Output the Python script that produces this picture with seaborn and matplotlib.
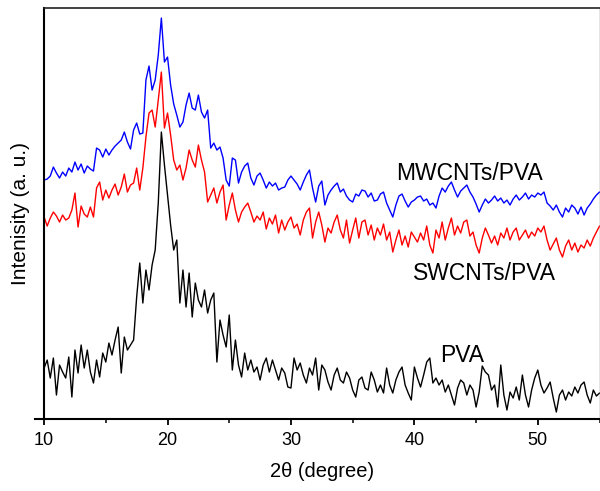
import numpy as np
import pandas as pd
import matplotlib
matplotlib.use("Agg")
import matplotlib.pyplot as plt
import seaborn as sns
from matplotlib.ticker import MultipleLocator

# XRD scans, 2theta from 10 to 55 deg, step 0.25 deg (arbitrary units)
two_theta = np.arange(10, 55.001, 0.25)

mwcnt_pva = [
    240, 241, 244, 253, 247, 242, 248, 244, 252, 248, 258, 250, 256, 247, 254, 251, 249,
    272, 270, 263, 271, 265, 270, 274, 277, 280, 288, 278, 271, 290, 297, 286, 287,
    340, 354, 330, 340, 365, 402, 358, 363, 335, 316, 305, 293, 298, 315, 327, 312, 310, 325, 308, 302, 310,
    272, 277, 270, 273, 262, 240, 234, 262, 260, 237, 248, 254, 257, 242, 235, 244, 247, 240, 232, 238, 234, 237, 230, 232, 233, 240,
    244, 240, 236, 230, 238, 245, 250, 232, 218, 234, 239, 215, 225, 230, 234, 237, 228, 231, 224, 220,
    218, 226, 224, 230, 229, 223, 227, 219, 220, 226, 228, 217, 210, 203, 215, 224, 226, 219, 213, 218,
    220, 223, 224, 219, 221, 215, 217, 212, 224, 232, 228, 234, 238, 230, 223, 229, 232, 235, 228, 223,
    216, 208, 215, 221, 217, 220, 224, 219, 222, 217, 220, 215, 221, 225, 220, 223, 227, 221, 225, 223,
    227, 225, 228, 217, 214, 210, 215, 208, 203, 212, 208, 215, 212, 206, 213, 205, 212, 216, 221, 225, 228,
]

swcnt_pva = [
    203, 194, 202, 208, 204, 198, 205, 200, 202, 210, 227, 193, 214, 206, 203, 213, 203,
    232, 238, 220, 230, 222, 230, 236, 225, 233, 246, 228, 235, 237, 252, 230, 252,
    283, 307, 310, 293, 320, 348, 292, 307, 285, 260, 250, 255, 240, 252, 270, 260, 253, 275, 260, 248, 218,
    225, 232, 217, 228, 235, 200, 215, 227, 210, 198, 208, 213, 217, 208, 198, 204, 200, 208, 191, 202, 196, 205, 187, 200, 190, 198,
    203, 192, 196, 185, 200, 208, 212, 182, 198, 208, 195, 178, 192, 187, 198, 205, 190, 182, 200, 177,
    190, 202, 182, 198, 200, 185, 195, 180, 192, 185, 196, 180, 188, 168, 180, 190, 175, 184, 173, 188,
    183, 178, 187, 180, 194, 175, 167, 190, 182, 198, 180, 192, 202, 185, 194, 187, 198, 200, 184, 188,
    175, 167, 182, 192, 185, 177, 184, 175, 187, 182, 192, 180, 188, 192, 180, 185, 190, 182, 188, 184,
    192, 188, 194, 180, 170, 176, 182, 170, 163, 174, 180, 170, 177, 168, 175, 172, 180, 174, 182, 188, 194,
]

pva = [
    52, 60, 42, 62, 25, 55, 48, 42, 63, 23, 70, 47, 75, 52, 70, 48, 37,
    60, 43, 67, 58, 77, 65, 80, 93, 47, 83, 70, 75, 80, 123, 157, 117,
    150, 130, 155, 170, 217, 288, 255, 225, 195, 170, 180, 117, 150, 113, 147, 103, 137, 120, 113, 130, 107,
    120, 127, 58, 100, 85, 73, 105, 50, 80, 55, 43, 67, 50, 60, 48, 53, 40, 55, 62, 48, 60, 50, 40, 52, 47, 33,
    32, 62, 50, 57, 45, 37, 52, 45, 62, 30, 55, 50, 38, 30, 45, 52, 40, 37, 48, 42,
    30, 23, 40, 43, 32, 30, 48, 40, 28, 35, 27, 52, 35, 27, 40, 48, 53, 35, 27, 20,
    53, 42, 33, 45, 58, 62, 37, 42, 35, 40, 28, 35, 25, 15, 32, 40, 37, 25, 35, 30,
    13, 28, 54, 48, 45, 30, 35, 13, 55, 25, 10, 28, 22, 33, 20, 45, 25, 13, 30, 42,
    50, 35, 27, 32, 38, 22, 8, 25, 30, 20, 28, 24, 33, 27, 35, 38, 25, 17, 30, 24, 27,
]

names = ["MWCNTs/PVA", "SWCNTs/PVA", "PVA"]
colores = ["blue", "red", "black"]

df = pd.DataFrame({
    "2theta": np.tile(two_theta, 3),
    "I": mwcnt_pva + swcnt_pva + pva,
    "muestra": np.repeat(names, len(two_theta)),
})

sns.set_style("white")
plt.rcParams["font.family"] = ["Liberation Sans", "DejaVu Sans"]
plt.rcParams["text.color"] = "black"
plt.rcParams["axes.labelcolor"] = "black"

fig = plt.figure(figsize=(6, 4.91), dpi=100)
ax = fig.add_axes([0.0735, 0.1466, 0.9257, 0.837])

sns.lineplot(data=df, x="2theta", y="I", hue="muestra", hue_order=names,
             palette=colores, linewidth=1.0, legend=False, ax=ax, estimator=None)

ax.set_xlim(10, 55)
ax.set_ylim(1, 412)
ax.set_yticks([])
ax.xaxis.set_major_locator(MultipleLocator(10))
ax.xaxis.set_minor_locator(MultipleLocator(5))
ax.tick_params(axis="x", which="major", direction="out", length=4, width=1.3,
               labelsize=13, bottom=True, pad=5, colors="black")
ax.tick_params(axis="x", which="minor", direction="out", length=3, width=1.3, bottom=True)

for s in ["left", "bottom"]:
    ax.spines[s].set_color("black")
    ax.spines[s].set_linewidth(1.5)
ax.spines["top"].set_color("#222222")
ax.spines["top"].set_linewidth(1.2)
ax.spines["right"].set_color("#777777")
ax.spines["right"].set_linewidth(1.0)
ax.spines["bottom"].set_bounds(9.3, 55)

ax.set_xlabel("2θ (degree)", fontsize=14.5, labelpad=10)
ax.set_ylabel("Intenisity (a. u.)", fontsize=15, labelpad=10)

# etiquetas de cada curva
ax.text(44.5, 247, "MWCNTs/PVA", fontsize=16.5, ha="center", va="center")
ax.text(45.7, 147, "SWCNTs/PVA", fontsize=16.5, ha="center", va="center")
ax.text(43.9, 65, "PVA", fontsize=16.5, ha="center", va="center")

plt.savefig("out.png", dpi=100)
